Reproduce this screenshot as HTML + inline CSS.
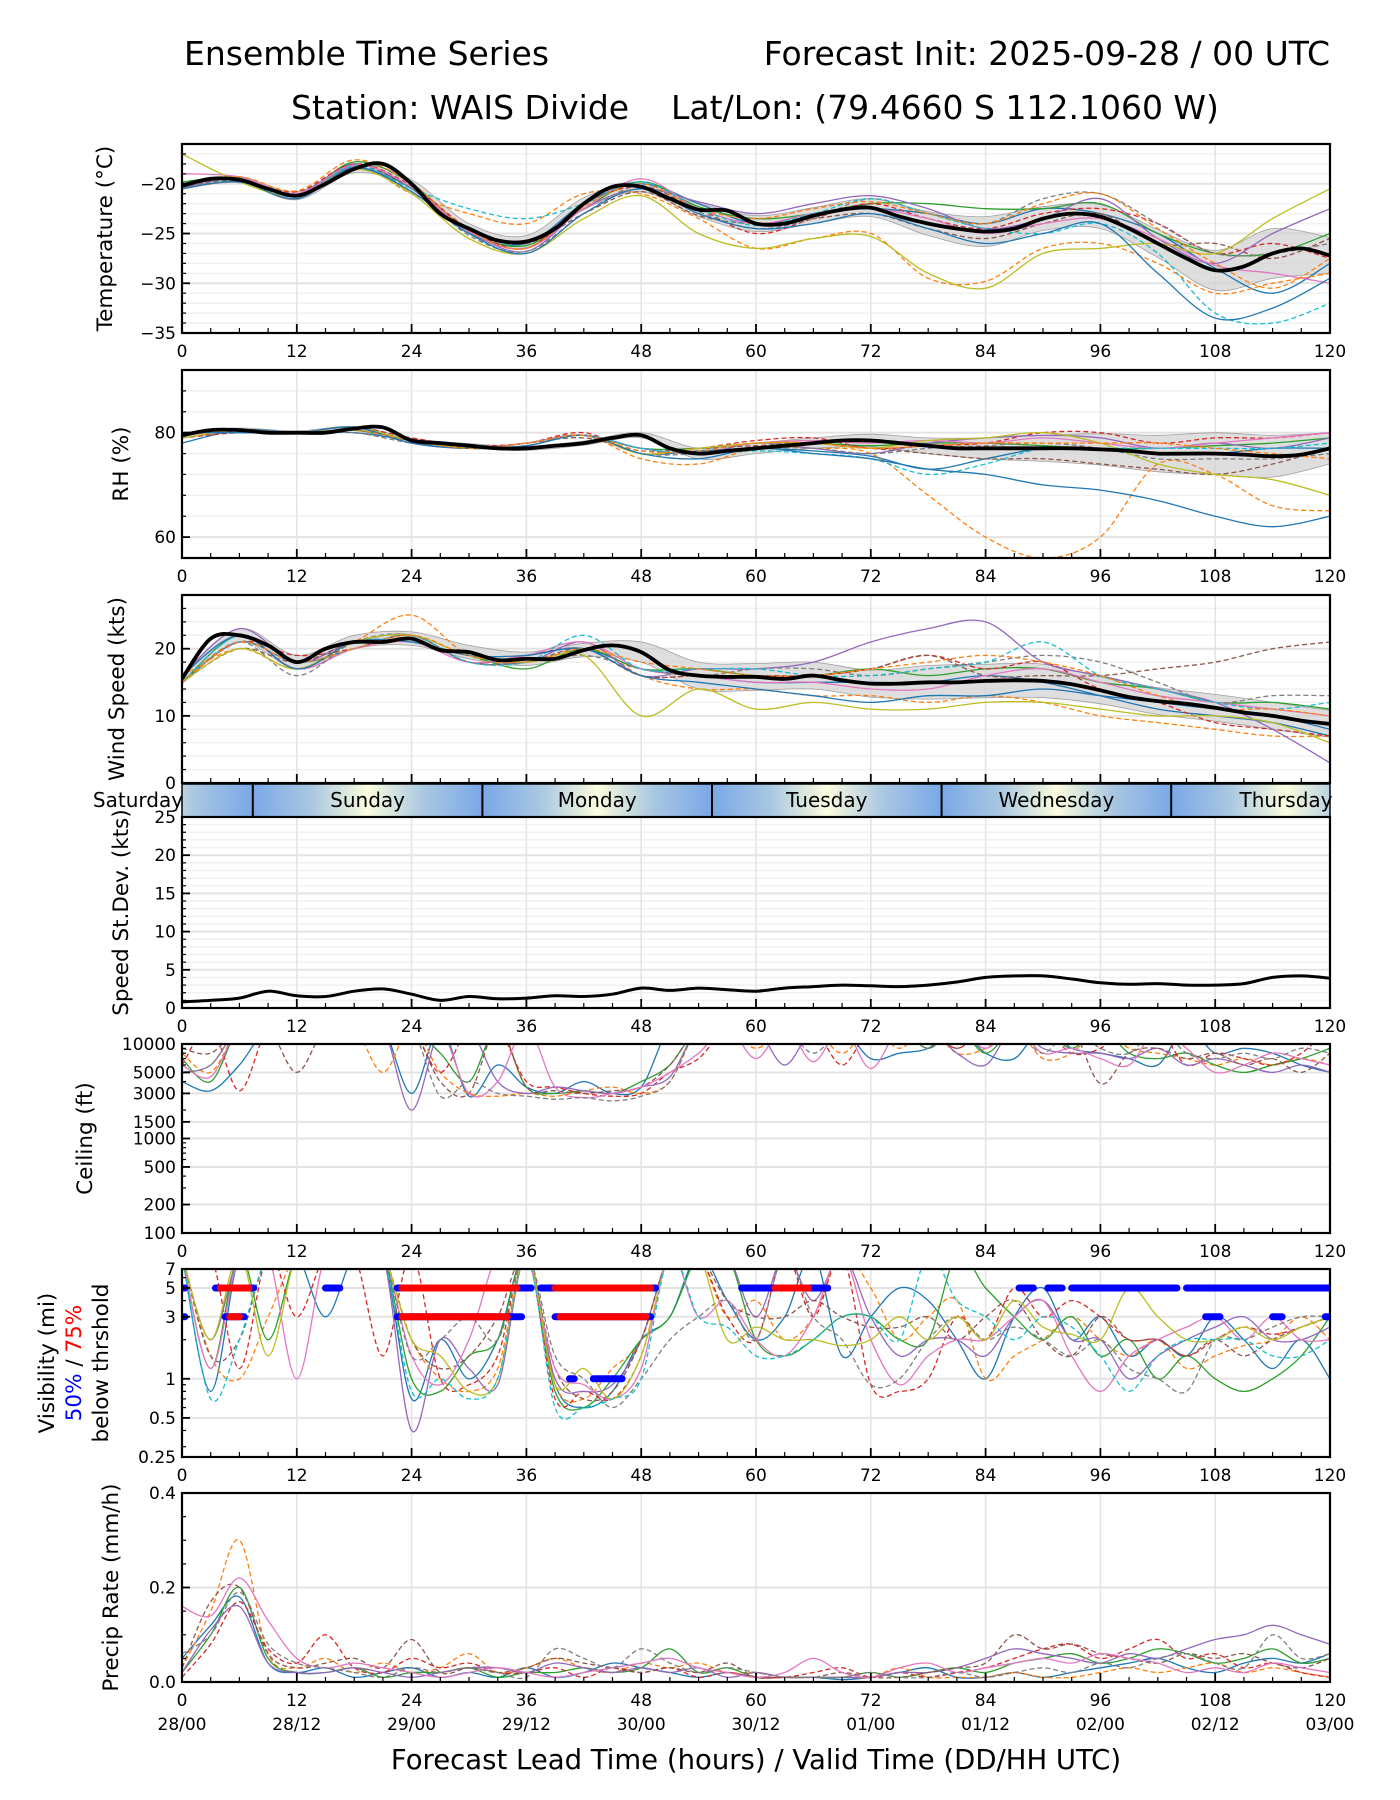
<!DOCTYPE html>
<html><head><meta charset="utf-8"><title>Ensemble Time Series - WAIS Divide</title>
<style>
html,body{margin:0;padding:0;background:#fff;}
svg{display:block;font-family:"DejaVu Sans","Liberation Sans",sans-serif;}
</style></head>
<body>
<svg id="chart" xmlns="http://www.w3.org/2000/svg" width="1400" height="1800" viewBox="0 0 1400 1800">
<rect x="0" y="0" width="1400" height="1800" fill="#fff"/>
<text x="184" y="65" font-size="33">Ensemble Time Series</text>
<text x="1330" y="65" font-size="33" text-anchor="end">Forecast Init: 2025-09-28 / 00 UTC</text>
<text x="755" y="119" font-size="33" text-anchor="middle" xml:space="preserve">Station: WAIS Divide    Lat/Lon: (79.4660 S 112.1060 W)</text>
<g id="plots"></g>
</svg>
<script>
// ---------- DATA ----------
const hours3 = [0,3,6,9,12,15,18,21,24,27,30,33,36,39,42,45,48,51,54,57,60,63,66,69,72,75,78,81,84,87,90,93,96,99,102,105,108,111,114,117,120];
const hours6 = [0,6,12,18,24,30,36,42,48,54,60,66,72,78,84,90,96,102,108,114,120];
const xTicks = [0,12,24,36,48,60,72,84,96,108,120];
const dateLabels = ["28/00","28/12","29/00","29/12","30/00","30/12","01/00","01/12","02/00","02/12","03/00"];
const dayNames = ["Saturday","Sunday","Monday","Tuesday","Wednesday","Thursday"];
const dayDividers = [7.4,31.4,55.4,79.4,103.4];

const tempMean = [-20.2,-19.5,-19.6,-20.5,-21.2,-20,-18.5,-18.0,-20,-23,-24.5,-25.7,-25.8,-24.5,-22,-20.3,-20.3,-21.5,-22.6,-22.7,-24,-24.0,-23.2,-22.6,-22.4,-23.3,-24.0,-24.5,-24.8,-24.5,-23.5,-23.0,-23.3,-24.5,-26,-27.5,-28.7,-28.3,-27,-26.5,-27.2];
const tempSpread = [0.3,0.3,0.4,0.4,0.4,0.5,0.6,0.6,0.5,0.7,0.8,0.8,0.9,1.2,1.5,1.2,1.2,1.4,2.0,2.5,1.8];
const tempMembers = [
[-20,-19.5,-21,-18,-20.5,-25,-26,-22,-20,-22,-24,-23,-22.5,-23,-24,-22.5,-23,-25,-28.5,-31,-28],
[-20.5,-19.8,-21.5,-18.2,-21,-23,-24,-21,-21,-23.5,-26.5,-25.5,-25,-29.5,-29.8,-26.5,-26,-28,-31,-30,-29],
[-19.8,-19.4,-21.2,-17.8,-20,-24.8,-26.2,-22.5,-19.8,-22.3,-23.5,-23,-22,-22,-22.5,-22.5,-22,-25,-27,-27,-25],
[-20,-19.6,-20.8,-18,-20.2,-24.5,-26.5,-22,-20.3,-22.5,-25,-23.5,-22,-23.5,-24.5,-23,-22.5,-24,-27,-26,-27.5],
[-20.4,-19.5,-21,-18.3,-20.8,-24.8,-26.8,-22.5,-20.5,-21.8,-23,-22,-21.2,-22.5,-24.5,-23.5,-21.5,-25.5,-28,-25,-22.5],
[-20.2,-19.6,-21.3,-18.2,-20.5,-24.5,-26,-23,-20.8,-23.2,-24,-23.5,-23,-24.5,-25.5,-24,-23,-26,-26,-27.5,-25.5],
[-19,-19.3,-21,-18.1,-20.3,-24.8,-26.5,-22.5,-19.5,-22.5,-24,-23,-22.5,-23.5,-25,-24,-23.5,-25.5,-28.2,-29,-30],
[-20.3,-19.7,-21.1,-18.4,-20.5,-25.2,-26.8,-23,-20.2,-22.8,-24.5,-23.5,-21.5,-23,-24,-21.5,-21,-24,-27,-27,-26],
[-17,-19.8,-21.2,-18.5,-21,-25.5,-27,-23.5,-21.2,-25,-26.5,-25.5,-25.3,-29,-30.5,-27,-26.5,-26,-27,-23.5,-20.5],
[-20,-19.6,-21.3,-18.2,-20.5,-22.5,-23.5,-22,-19.8,-22.5,-24.2,-23,-21.5,-23,-24.5,-25,-24,-27,-33,-34,-32],
[-20.5,-19.8,-21.5,-18.4,-20.8,-25,-27,-23,-20.5,-23,-24.5,-24,-23,-24.5,-26,-25,-24,-29,-33.5,-32.5,-29.5],
[-20,-19.3,-20.7,-17.6,-20,-24.7,-26.5,-22.3,-20,-22.5,-23.5,-22.5,-21.8,-23,-24,-22,-21,-24.5,-28,-30.5,-27.5]
];
const tempTicks = [-35,-30,-25,-20];

const rhMean = [79.5,80.5,80.5,80,80,80,80.8,81,78.5,78,77.5,77,77,77.5,78,79,79.5,77,76,76.5,77,77.5,78,78.5,78.5,78,77.5,77,77,77,77,77,76.8,76.5,76,76,76,75.8,75.5,75.8,77];
const rhSpread = [0.5,0.4,0.3,0.4,0.4,0.4,0.4,0.4,0.5,1,1,1,1.2,1.5,2,2.5,3,3.5,4,4,3];
const rhMembers = [
[78,80.5,80,80,78.5,77,78,79.5,76,76.5,77,76.5,75.5,73,75,77,77,76,76,77,77],
[80,80,80,81,78,77,78,79.5,75,74,77,77,76,68,60,56,60,74,72,66,65],
[80,80.5,80,80.5,78.5,77,78,79.5,77,77,78,78,77.5,78,78,77.5,77,77,77.5,78,79],
[79,80,80,81,79,77.5,78,80,76,77,78.5,79,77,77.5,78,80,80,78,79,79,80],
[80,80,80,81,78,77,77.5,79.5,77,76,78,77,76,78,79,79.5,79,77,78,77,79],
[80,80,80,81,78.5,77,78,79,76.5,77,77.5,78,77,76,75,75,74,73,72,74,77],
[79.5,80.5,80,81,78,77,78,79.5,76,77,78,78.5,78,78.5,78,79,78,77,78,79,80],
[80,80,80,80,78,77,78,79.5,76,76,77,77,76,77,77.5,78,77,75,75,75,76],
[79,80.5,80,81,78.5,77,77.5,79.5,76,77,78,78,77,78.5,79,80,78,74,72,71,68],
[80,80.5,80,81,78,77,77.5,79.5,77,76,76.5,76,75,72,74,77,77,77,77,77,78],
[80,80,80,81,78,77,77.5,79.5,76,75,77,76,75,73,72,70,69,67,64,62,64],
[80,80.5,80,80.5,78.5,77,78,79.5,76.5,76.5,78,78,77,77.5,78,78,78,78,77,76,75]
];
const rhTicks = [60,80];

const windMean = [15.5,21.5,22,20.5,18,20,21,21,21.5,19.8,19.5,18.3,18.5,18.5,19.8,20.5,19.5,16.8,16,15.8,15.8,15.5,16,15.3,14.8,14.8,15,15,15.2,15.3,15.2,14.7,13.8,12.8,12.2,11.8,11.2,10.5,10,9.3,8.8];
const windSpread = [0.7,1,1,1,1,1,1,1,1.5,2,2,2,2,2.5,2.5,2.5,2,2,2,2,2];
const windMembers = [
[15,21,18,20,22,18,19,20,17,16,15,15,15,15,16,15,13,11,10,9,7],
[16,20,17,21,25,19,18,21,16,14,14,13,13,12,13,12,10,9,8,7,7],
[15,22,17,21,21,19,17,20,17,17,16,16,17,16,17,17,15,14,12,12,11],
[15,21,19,20,22,18,19,20,16,16,16,16,17,19,17,18,14,12,9,8,7],
[16,23,18,21,21,19,18,21,16,17,17,18,21,23,24,18,16,14,12,8,3],
[15,20,18,21,22,18,18,20,16,16,16,16,17,19,16,16,16,17,18,20,21],
[16,22,17,20,21,18,19,21,17,16,15,15,14,14,16,17,15,13,12,11,10],
[15,21,16,21,22,18,18,19,17,16,17,17,16,17,18,19,18,15,12,13,13],
[15,20,17,21,22,19,18,19,10,14,11,12,11,11,12,12,11,10,10,9,6],
[15,22,18,20,22,18,18,22,17,17,17,16,16,17,18,21,16,14,12,11,12],
[16,22,17,21,21,19,19,20,16,15,14,13,12,13,13,14,13,12,11,10,8],
[15,21,18,20,22,19,18,20,18,17,16,16,17,18,19,18,16,13,11,11,10]
];
const windTicks = [0,10,20];

const stdevValues = [0.8,1.0,1.3,2.2,1.6,1.5,2.2,2.5,1.8,1.0,1.5,1.2,1.3,1.6,1.5,1.8,2.6,2.3,2.6,2.4,2.2,2.6,2.8,3.0,2.9,2.8,3.0,3.4,4.0,4.2,4.2,3.8,3.3,3.1,3.2,3.0,3.0,3.2,4.0,4.2,3.9];
const stdevTicks = [0,5,10,15,20,25];

const ceilMembers = [
[4000,3200,6000,15000,15000,15000,15000,15000,3000,15000,2800,6000,3500,3000,4000,3000,3500,15000,15000,15000,15000,15000,15000,15000,7000,8000,9000,15000,8000,7000,15000,9000,8000,7000,6000,15000,8000,9000,8000,6000,5000],
[8000,5000,15000,15000,15000,15000,15000,5000,15000,5000,3000,2800,3000,2800,3200,3500,3000,4000,15000,15000,9000,15000,15000,8000,15000,9000,15000,8000,9000,15000,7000,8000,15000,9000,8000,7000,6000,7000,6000,7000,6000],
[7000,4000,15000,15000,15000,15000,15000,15000,15000,8000,4000,15000,3500,3000,3200,3000,4000,6000,15000,15000,15000,15000,15000,15000,15000,15000,9000,15000,8000,15000,15000,9000,15000,8000,7000,8000,6000,5000,6000,7000,9000],
[6000,15000,3200,15000,15000,15000,15000,15000,15000,5000,15000,15000,4000,3500,3000,2800,3000,5000,7000,15000,15000,15000,15000,6000,15000,15000,15000,9000,15000,15000,15000,8000,9000,15000,15000,6000,8000,7000,6000,8000,15000],
[5000,6000,15000,15000,15000,15000,15000,15000,2000,15000,15000,4000,3000,3500,3200,3000,3500,4500,15000,15000,15000,6000,15000,15000,15000,15000,15000,8000,6000,15000,9000,8000,8000,7000,9000,6000,7000,6000,5000,6000,5000],
[9000,8000,15000,15000,5000,15000,15000,15000,15000,4000,3000,15000,3500,3200,3000,3200,3500,6000,15000,15000,15000,15000,15000,15000,15000,15000,15000,9000,15000,15000,15000,15000,3800,8000,9000,7000,8000,6000,7000,5000,8000],
[6000,4500,15000,15000,15000,15000,15000,15000,15000,15000,3000,4000,15000,3500,2700,3000,3500,5000,8000,15000,7000,15000,6500,15000,5500,15000,15000,15000,9000,15000,8000,9000,7000,6000,15000,9000,5000,6000,8000,7000,6000],
[5000,6000,15000,15000,15000,15000,15000,15000,15000,2800,4000,3000,2800,2600,2700,2500,2800,4000,15000,15000,15000,15000,8000,15000,15000,15000,9000,15000,15000,15000,8000,15000,9000,8000,15000,8000,7000,8000,7000,9000,8000]
];
const ceilTicks = [100,200,500,1000,1500,3000,5000,10000];

const visMembers = [
[9,0.8,9,9,9,3,9,9,0.7,2,1,2,9,0.9,0.6,0.8,2,3,9,4,2,3,9,1.5,3,5,4,2,1,3,5,2,3,1.5,2,1.5,3,2,1.2,2,1],
[9,1.5,1,3,9,9,9,9,2,1,0.8,1.2,9,0.9,0.7,1.2,2,9,9,3,4,2,3,9,5,2,3,4,1,1.5,2,3,2,1.5,2,1.2,1.5,1.8,2,3,2],
[9,1.2,9,2,9,9,9,9,1,0.8,1.5,2,9,0.8,0.6,1,2,3,9,9,2,1.5,2,3,3,2,2,9,5,3,2,3,1.5,2,1,1.5,1,0.8,1,1.5,3],
[9,9,1.2,9,3,9,9,1.5,9,1,0.9,1.5,9,0.7,0.8,0.7,1.5,9,9,3,2,9,3,9,0.9,0.8,1,3,2,5,3,4,3,2,2,1.5,2,2.5,2.2,2.5,3],
[9,2,9,9,9,9,9,9,0.4,2,1.2,0.9,9,1,0.8,0.9,2,9,9,9,3,9,4,9,3,1.5,2,2,1.5,3,4,2,2,1,1.5,2,2.5,3,2,2,2.5],
[9,1.5,2,9,9,9,9,9,2,1.2,1.5,3,9,1.2,0.7,0.8,2,9,9,4,3,3,4,3,2.5,2.5,3,2,3,4,2,1.5,3,2,2,1.5,2,1.5,2,2.5,3],
[9,1.2,9,9,1,9,9,9,1.5,0.9,2,9,9,1.2,0.9,0.7,1.2,9,3,4,2,1.5,3,9,2,0.9,1.5,2,2,3,4,1.5,0.8,1.5,2,2.5,3,2,3,2,2],
[9,2,9,9,9,9,9,9,1.5,2,3,2,9,1.5,1,0.6,1,2,3,4,2,9,3,2,0.9,1,2,3,2,2.5,2,1.5,2,1.2,1,0.8,2,2,2.5,3,3],
[9,2,9,1.5,9,9,9,9,2,1.5,0.8,1,9,0.9,1.2,0.7,1.5,9,9,2,2.5,2,2,1.8,2,3,2,3,2,4,2.5,2.2,2,5,3,2,2,2.5,2,2.5,3],
[9,0.7,2,9,9,9,9,9,0.8,1,0.7,1,9,0.6,0.6,0.7,1,9,3,2.5,1.5,1.5,2,3,3,2,9,4,3,2,3,2.5,1.5,0.8,1.5,2,2,2,1.5,1.5,2]
];
const visTicks = [0.25,0.5,1,3,5,7];
const blue50at5 = [[0,0.3],[3.5,7.5],[15,16.5],[22.5,36.5],[37.5,49.5],[58.5,67.5],[87.5,89],[90.5,92],[93,104],[105,120]];
const red75at5 = [[4,7],[23,35],[39,49],[62,65.5]];
const blue50at3 = [[0,0.3],[4.5,6.5],[22.5,35.5],[39,49],[107,108.5],[114,115],[119.5,120]];
const red75at3 = [[5,6],[23,34],[39.5,48.5]];
const blue50at1 = [[40.5,41],[43,46]];

const precipMembers = [
[.05,.12,.18,.04,.02,.03,.01,.02,.03,.01,.02,.01,.03,.01,.02,.04,.03,.02,.01,.02,.01,.01,.01,.005,.01,.02,.03,.01,.01,.02,.01,.02,.03,.04,.05,.03,.02,.04,.05,.04,.06],
[.03,.15,.3,.06,.03,.05,.02,.04,.02,.03,.06,.02,.03,.05,.03,.02,.04,.03,.04,.02,.02,.01,.01,.01,.01,.03,.01,.01,.01,.02,.01,.01,.02,.03,.02,.03,.04,.02,.03,.02,.01],
[.02,.1,.2,.05,.02,.02,.03,.01,.02,.02,.03,.01,.02,.02,.03,.02,.03,.07,.02,.03,.01,.01,.01,.01,.02,.01,.02,.03,.02,.04,.05,.06,.04,.05,.07,.06,.04,.05,.07,.04,.05],
[.01,.08,.17,.07,.04,.1,.03,.02,.05,.03,.04,.02,.02,.03,.01,.03,.02,.03,.01,.02,.01,.01,.02,.03,.01,.02,.01,.02,.03,.05,.07,.08,.05,.07,.09,.05,.06,.03,.04,.02,.01],
[.02,.11,.16,.04,.02,.02,.03,.02,.01,.02,.03,.03,.02,.04,.03,.02,.03,.02,.03,.01,.02,.01,.01,.01,.01,.02,.02,.03,.05,.07,.06,.05,.04,.06,.05,.07,.09,.1,.12,.1,.08],
[.03,.17,.2,.06,.03,.04,.05,.03,.09,.02,.03,.02,.03,.05,.04,.03,.02,.03,.02,.04,.01,.01,.01,.02,.01,.01,.02,.03,.04,.1,.07,.08,.06,.05,.04,.06,.05,.06,.04,.03,.05],
[.16,.14,.22,.13,.05,.03,.04,.03,.02,.01,.02,.03,.02,.01,.02,.03,.04,.05,.03,.02,.01,.02,.05,.02,.01,.03,.04,.02,.03,.04,.05,.04,.06,.05,.04,.02,.03,.02,.04,.03,.02],
[.06,.1,.19,.08,.04,.03,.02,.01,.03,.02,.03,.02,.01,.07,.05,.03,.07,.04,.02,.03,.02,.01,.01,.01,.02,.01,.01,.02,.01,.02,.03,.02,.04,.03,.05,.06,.04,.03,.1,.05,.06]
];
const precipTicks = [0,0.2,0.4];

// ---------- RENDERING ----------
const NS = "http://www.w3.org/2000/svg";
const X0 = 182, X1 = 1330;
const root = document.getElementById('plots');
const palette = ["#1f77b4","#ff7f0e","#2ca02c","#d62728","#9467bd","#8c564b","#e377c2","#7f7f7f","#bcbd22","#17becf"];
function xs(h){ return X0 + (h/120)*(X1-X0); }
function mk(tag, attrs, parent){
  const e = document.createElementNS(NS, tag);
  for (const k in attrs) e.setAttribute(k, attrs[k]);
  (parent||root).appendChild(e);
  return e;
}
function smooth(pts){
  let d = `M${pts[0][0].toFixed(1)},${pts[0][1].toFixed(1)}`;
  for (let i=0;i<pts.length-1;i++){
    const p0=pts[i-1]||pts[i], p1=pts[i], p2=pts[i+1], p3=pts[i+2]||p2;
    const c1x=p1[0]+(p2[0]-p0[0])/6, c1y=p1[1]+(p2[1]-p0[1])/6;
    const c2x=p2[0]-(p3[0]-p1[0])/6, c2y=p2[1]-(p3[1]-p1[1])/6;
    d += `C${c1x.toFixed(1)},${c1y.toFixed(1)} ${c2x.toFixed(1)},${c2y.toFixed(1)} ${p2[0].toFixed(1)},${p2[1].toFixed(1)}`;
  }
  return d;
}
function fmt(v){ return (v<0?"\u2212":"")+Math.abs(v); }

function makePanel(p){
  const g = mk('g',{});
  
  
  const ys = p.log
    ? v => p.bottom - (Math.log(v/p.ymin)/Math.log(p.ymax/p.ymin))*(p.bottom-p.top)
    : v => p.bottom - ((v-p.ymin)/(p.ymax-p.ymin))*(p.bottom-p.top);
  if (p.minor) for (const v of p.minor){
    const l = mk('line',{x1:X0,x2:X1,y1:ys(v),y2:ys(v),stroke:"#f1f1f1","stroke-width":1.5},g);
     
  }
  for (const h of xTicks){
    const l = mk('line',{x1:xs(h),x2:xs(h),y1:p.top,y2:p.bottom,stroke:"#e3e3e3","stroke-width":1.5},g);
     
  }
  for (const v of p.ticks){
    const l = mk('line',{x1:X0,x2:X1,y1:ys(v),y2:ys(v),stroke:"#e3e3e3","stroke-width":2},g);
     
  }
  const cid = 'clip-'+p.name;
  const cp = mk('clipPath',{id:cid},g);
  mk('rect',{x:X0,y:p.top,width:X1-X0,height:p.bottom-p.top},cp);
  const plot = mk('g',{'clip-path':`url(#${cid})`},g);
  
  
  for (let h=0; h<=120; h+=3){
    const major = h%12===0;
    const t = mk('line',{x1:xs(h),x2:xs(h),y1:p.bottom,y2:p.bottom-(major?9:5),stroke:"#000","stroke-width":major?1.8:1.2},g);
     
  }
  for (const v of p.ticks){
    const t = mk('line',{x1:X0,x2:X0+8,y1:ys(v),y2:ys(v),stroke:"#000","stroke-width":1.8},g);
     
    const tx = mk('text',{x:X0-6,y:ys(v)+6,'font-size':17,'text-anchor':'end'},g);
    tx.textContent = p.tickFmt ? p.tickFmt(v) : fmt(v);
     
  }
  if (p.minorTicks) for (const v of p.minorTicks){
    const t = mk('line',{x1:X0,x2:X0+4,y1:ys(v),y2:ys(v),stroke:"#000","stroke-width":1.2},g);
     
  }
  if (!p.noXLabels) for (const h of xTicks){
    const tx = mk('text',{x:xs(h),y:p.bottom+24,'font-size':17,'text-anchor':'middle'},g);
    tx.textContent = String(h);
     
  }
  p.label.forEach((ln,i)=>{
    const lx = p.labelX[i], ly=(p.top+p.bottom)/2;
    const tx = mk('text',{x:lx,y:ly,'font-size':21.5,'text-anchor':'middle',transform:`rotate(-90 ${lx} ${ly})`},g);
    if (Array.isArray(ln)) { ln.forEach(seg=>{ const s=mk('tspan',{fill:seg[1]},tx); s.textContent=seg[0]; }); }
    else tx.textContent = ln;
     
  });
  const frame = mk('rect',{x:X0,y:p.top,width:X1-X0,height:p.bottom-p.top,fill:"none",stroke:"#000","stroke-width":2.2},g);
   
  return {g, plot, ys};
}

function drawMembers(plot, ys, members, hrs, nameBase){
  members.forEach((m,i)=>{
    const pts = m.map((v,j)=>[xs(hrs[j]), ys(v)]);
    const path = mk('path',{d:smooth(pts),fill:"none",stroke:palette[i%10],"stroke-width":1.3,"stroke-dasharray":(i%2===1)?"5,3":"none"},plot);
    
    
  });
}
function drawBand(plot, ys, mean, spread, nameBase){
  const up=[], dn=[];
  hours6.forEach((h,j)=>{ const m = mean[j*2]; up.push([xs(h), ys(m+spread[j])]); dn.push([xs(h), ys(m-spread[j])]); });
  dn.reverse();
  let d = smooth(up) + smooth(dn).replace(/^M/,'L') + 'Z';
  const band = mk('path',{d:d,fill:"#d0d0d0","fill-opacity":0.7,stroke:"#a0a0a0","stroke-width":0.8},plot);
  
  
}
function drawMean(plot, ys, mean, nameBase, w){
  const pts = mean.map((v,j)=>[xs(hours3[j]), ys(v)]);
  const path = mk('path',{d:smooth(pts),fill:"none",stroke:"#000","stroke-width":w||3.8,"stroke-linejoin":"round"},plot);
  
  
}
function range(a,b,s){ const r=[]; for(let v=a; v<=b+1e-9; v+=s) r.push(+v.toFixed(4)); return r; }

let P = makePanel({name:'temperature-panel',top:144,bottom:333,ymin:-35,ymax:-16,ticks:tempTicks,minor:range(-34,-16,1),minorTicks:range(-34,-16,1),label:['Temperature (°C)'],labelX:[112]});
drawBand(P.plot,P.ys,tempMean,tempSpread,'temperature');
drawMembers(P.plot,P.ys,tempMembers,hours6,'temperature');
drawMean(P.plot,P.ys,tempMean,'temperature');

P = makePanel({name:'rh-panel',top:370,bottom:558,ymin:56,ymax:92,ticks:rhTicks,minor:range(56,92,4),minorTicks:range(56,92,4),label:['RH (%)'],labelX:[128]});
drawBand(P.plot,P.ys,rhMean,rhSpread,'rh');
drawMembers(P.plot,P.ys,rhMembers,hours6,'rh');
drawMean(P.plot,P.ys,rhMean,'rh');

P = makePanel({name:'wind-panel',top:595,bottom:783,ymin:0,ymax:28,ticks:windTicks,minor:range(2,28,2),minorTicks:range(2,28,2),label:['Wind Speed (kts)'],labelX:[124],noXLabels:true});
drawBand(P.plot,P.ys,windMean,windSpread,'wind');
drawMembers(P.plot,P.ys,windMembers,hours6,'wind');
drawMean(P.plot,P.ys,windMean,'wind');

(function(){
  const top=784, bot=817;
  const g = mk('g',{});
   
  const defs = mk('defs',{},g);
  const gr = mk('linearGradient',{id:'daygrad',x1:0,x2:1,y1:0,y2:0},defs);
  [["0%","#7aa8e6"],["25%","#a8c6e2"],["45%","#e9f1dd"],["50%","#fbfddf"],["55%","#e9f1dd"],["75%","#a8c6e2"],["100%","#7aa8e6"]].forEach(s=>mk('stop',{offset:s[0],'stop-color':s[1]},gr));
  const bgr = mk('rect',{x:X0,y:top,width:X1-X0,height:bot-top,fill:'#fff'},g);
  const cp = mk('clipPath',{id:'clip-day'},g);
  mk('rect',{x:X0,y:top,width:X1-X0,height:bot-top},cp);
  const inner = mk('g',{'clip-path':'url(#clip-day)'},g);
  for (let k=-1;k<5;k++){
    const a = dayDividers[0]+24*k;
    const r = mk('rect',{x:xs(a),y:top,width:xs(a+24)-xs(a),height:bot-top,fill:'url(#daygrad)'},inner);
     
  }
  dayDividers.forEach(h=>{
    const l = mk('line',{x1:xs(h),x2:xs(h),y1:top,y2:bot,stroke:"#000","stroke-width":2},g);
     
  });
  dayNames.forEach((n,i)=>{
    const c = dayDividers[0]-12+24*i;
    const t = mk('text',{x:xs(c),y:top+23,'font-size':20,'text-anchor':'middle'},g);
    t.textContent = n;
     
  });
  const f = mk('rect',{x:X0,y:top,width:X1-X0,height:bot-top,fill:'none',stroke:'#000','stroke-width':1.5},g);
   
})();

P = makePanel({name:'stdev-panel',top:817,bottom:1008,ymin:0,ymax:25,ticks:stdevTicks,minor:range(1,25,1),minorTicks:range(1,25,1),label:['Speed St.Dev. (kts)'],labelX:[128]});
drawMean(P.plot,P.ys,stdevValues,'stdev',3);

P = makePanel({name:'ceiling-panel',top:1044,bottom:1233,ymin:100,ymax:10000,log:true,ticks:ceilTicks,minorTicks:[300,400,600,700,800,900,2000,4000,6000,7000,8000,9000],label:['Ceiling (ft)'],labelX:[92]});
drawMembers(P.plot,P.ys,ceilMembers,hours3,'ceiling');

P = makePanel({name:'visibility-panel',top:1269,bottom:1457,ymin:0.25,ymax:7,log:true,ticks:visTicks,minorTicks:[0.3,0.4,0.6,0.7,0.8,0.9,2,4,6],label:['Visibility (mi)',[["50%","#0000ff"],[" / ","#000"],["75%","#ff0000"]],'below thrshold'],labelX:[54,81,108]});
drawMembers(P.plot,P.ys,visMembers,hours3,'visibility');
function segs(list, level, color, nm){
  list.forEach(s=>{
    const l = mk('line',{x1:xs(s[0]),x2:xs(s[1]),y1:P.ys(level),y2:P.ys(level),stroke:color,"stroke-width":7,"stroke-linecap":"round"},P.plot);
    
    
  });
}
segs(blue50at5,5,"#0000ff","threshold-50pct-5mi");
segs(red75at5,5,"#ff0000","threshold-75pct-5mi");
segs(blue50at3,3,"#0000ff","threshold-50pct-3mi");
segs(red75at3,3,"#ff0000","threshold-75pct-3mi");
segs(blue50at1,1,"#0000ff","threshold-50pct-1mi");

P = makePanel({name:'precip-panel',top:1493,bottom:1682,ymin:0,ymax:0.4,ticks:precipTicks,tickFmt:v=>v.toFixed(1),minorTicks:[0.05,0.1,0.15,0.25,0.3,0.35],label:['Precip Rate (mm/h)'],labelX:[118]});
drawMembers(P.plot,P.ys,precipMembers.map(m=>m.map(v=>Math.max(v,0))),hours3,'precip');
xTicks.forEach((h,i)=>{
  const t = mk('text',{x:xs(h),y:1682+48,'font-size':17,'text-anchor':'middle'});
  t.textContent = dateLabels[i];
  
  
});
const xl = mk('text',{x:(X0+X1)/2,y:1769,'font-size':27.5,'text-anchor':'middle'});
xl.textContent = 'Forecast Lead Time (hours) / Valid Time (DD/HH UTC)';


</script>
</body></html>
